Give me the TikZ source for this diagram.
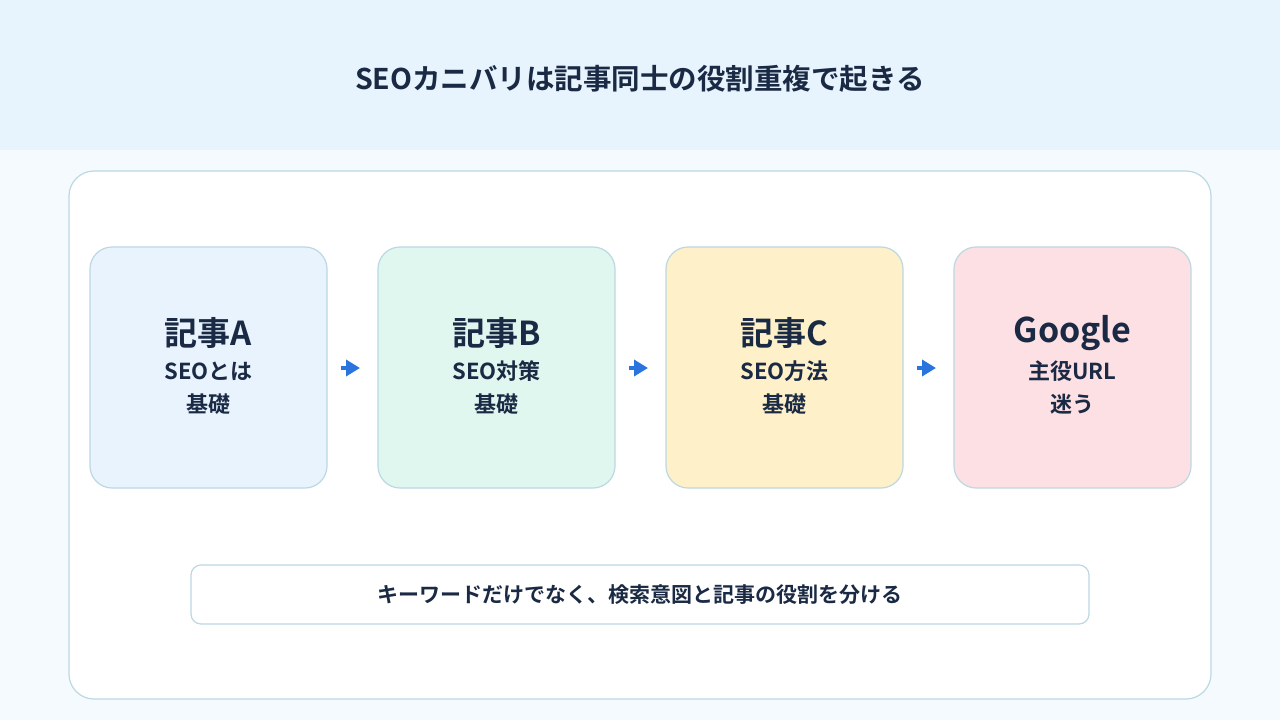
\documentclass[tikz,border=0pt]{standalone}
\usepackage{fontspec}
\setmainfont{Noto Sans CJK JP}[BoldFont={* Bold}]
\usetikzlibrary{positioning,arrows.meta}
\definecolor{ink}{HTML}{1A2A44}
\definecolor{band}{HTML}{E8F4FD}
\definecolor{page}{HTML}{F5FAFE}
\definecolor{edge}{HTML}{BCD8E2}
\definecolor{fillA}{HTML}{E8F3FD}
\definecolor{fillB}{HTML}{E0F7F0}
\definecolor{fillC}{HTML}{FEF0C8}
\definecolor{fillD}{HTML}{FDE0E4}
\definecolor{arr}{HTML}{2A74E0}
\tikzset{
  card/.style={draw=edge, line width=1.2pt, rounded corners=22pt, minimum width=237pt, minimum height=241pt, inner sep=0pt},
  flowarrow/.style={-{Triangle[length=14pt,width=16pt]}, line width=4pt, arr}
}
\begin{document}
\begin{tikzpicture}[x=1pt,y=-1pt, font=\bfseries\color{ink}]
\useasboundingbox (0,0) rectangle (1280,720);
\fill[page] (0,0) rectangle (1280,720);
\fill[band] (0,0) rectangle (1280,150);
\node (title) at (640,79) {\fontsize{28.5}{32}\selectfont SEOカニバリは記事同士の役割重複で起きる};
\draw[edge, line width=1.2pt, fill=white, rounded corners=25pt] (69,171) rectangle (1211,699);

\node[card, fill=fillA] (a) at (208.5,367.5) {};
\node[card, fill=fillB] (b) at (496.5,367.5) {};
\node[card, fill=fillC] (c) at (784.5,367.5) {};
\node[card, fill=fillD] (d) at (1072.5,367.5) {};

\node (ta) at (208.5,333) {\fontsize{33}{36}\selectfont 記事A};
\node (sa) at (208.5,389) {\fontsize{22}{34}\selectfont\begin{tabular}{c}SEOとは\\[-0.5pt]基礎\end{tabular}};
\node (tb) at (496.5,333) {\fontsize{33}{36}\selectfont 記事B};
\node (sb) at (496.5,389) {\fontsize{22}{34}\selectfont\begin{tabular}{c}SEO対策\\[-0.5pt]基礎\end{tabular}};
\node (tc) at (784.5,333) {\fontsize{33}{36}\selectfont 記事C};
\node (sc) at (784.5,389) {\fontsize{22}{34}\selectfont\begin{tabular}{c}SEO方法\\[-0.5pt]基礎\end{tabular}};
\node (td) at (1072.5,333) {\fontsize{34}{36}\selectfont Google};
\node (sd) at (1072.5,389) {\fontsize{22}{34}\selectfont\begin{tabular}{c}主役URL\\[-0.5pt]迷う\end{tabular}};

\coordinate (ab1) at (341,368); \coordinate (ab2) at (360,368);
\coordinate (bc1) at (629,368); \coordinate (bc2) at (648,368);
\coordinate (cd1) at (917,368); \coordinate (cd2) at (936,368);
\draw[flowarrow] (ab1) -- (ab2);
\draw[flowarrow] (bc1) -- (bc2);
\draw[flowarrow] (cd1) -- (cd2);

\node[draw=edge, line width=1.2pt, fill=white, rounded corners=10pt, minimum width=898pt, minimum height=59pt] (note) at (640,594.5) {\fontsize{21}{24}\selectfont キーワードだけでなく、検索意図と記事の役割を分ける};
\end{tikzpicture}
\end{document}
